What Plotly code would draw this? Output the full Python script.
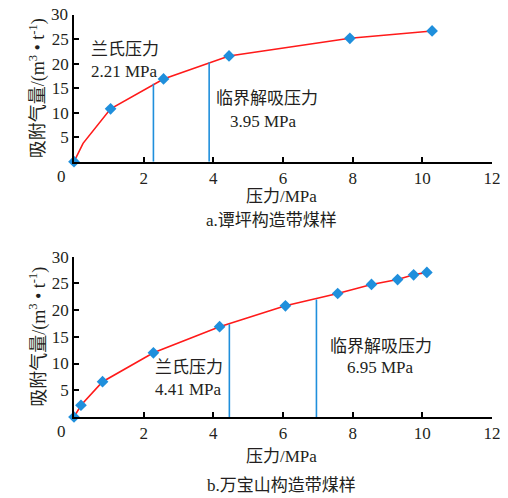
import plotly.graph_objects as go

# ---- data: a. 谭坪构造带煤样 ----
a_px = [0.0, 1.05, 2.57, 4.45, 7.92, 10.28]
a_py = [0.0, 10.8, 16.9, 21.6, 25.2, 26.7]
a_line_x = [0.0, 0.26, 1.05, 2.57, 4.45, 7.92, 10.28]
a_line_y = [0.0, 3.75, 10.8, 16.9, 21.6, 25.2, 26.7]
a_lang_x, a_lang_top = 2.28, 15.9
a_crit_x, a_crit_top = 3.88, 20.3

# ---- data: b. 万宝山构造带煤样 ----
b_px = [0.0, 0.2, 0.82, 2.28, 4.18, 6.07, 7.57, 8.54, 9.29, 9.75, 10.13]
b_py = [0.0, 2.2, 6.6, 12.0, 16.9, 20.8, 23.1, 24.8, 25.7, 26.6, 27.05]
b_lang_x, b_lang_top = 4.46, 17.35
b_crit_x, b_crit_top = 6.96, 22.0

x_ticks = [2, 4, 6, 8, 10, 12]
y_ticks = [5, 10, 15, 20, 25, 30]
y_ticktext = [str(v) for v in y_ticks]

RED = "#ff1a1a"
BLUE = "#1f8fdc"
TXT = "#231f20"
SERIF = "Liberation Serif, Times New Roman, Noto Sans CJK SC, serif"
CJK = "Liberation Serif, Noto Sans CJK SC, serif"

fig = go.Figure()

def add_panel(xa, ya, lx, ly, px, py, v1, v2):
    fig.add_trace(go.Scatter(x=lx, y=ly, mode="lines", line=dict(color=RED, width=1.6),
                             xaxis=xa, yaxis=ya, cliponaxis=False, showlegend=False))
    for vx, vt in (v1, v2):
        fig.add_trace(go.Scatter(x=[vx, vx], y=[0, vt], mode="lines",
                                 line=dict(color=BLUE, width=1.6),
                                 xaxis=xa, yaxis=ya, showlegend=False))
    fig.add_trace(go.Scatter(x=px, y=py, mode="markers",
                             marker=dict(symbol="diamond", size=9, color=BLUE),
                             xaxis=xa, yaxis=ya, cliponaxis=False, showlegend=False))

add_panel("x", "y", a_line_x, a_line_y, a_px, a_py,
          (a_lang_x, a_lang_top), (a_crit_x, a_crit_top))
add_panel("x2", "y2", b_px, b_py, b_px, b_py,
          (b_lang_x, b_lang_top), (b_crit_x, b_crit_top))

ax_common = dict(showline=True, linecolor="black", linewidth=1.5, ticks="inside",
                 ticklen=5, tickwidth=1.5, tickcolor="black", showgrid=False,
                 zeroline=False, automargin=False,
                 tickfont=dict(family=SERIF, size=17, color=TXT))

# page body has an 8px default margin, so the figure is offset by (8, 8)
fig.update_layout(
    width=500, height=490,
    margin=dict(l=66, r=16, t=6, b=81, autoexpand=False),
    paper_bgcolor="white", plot_bgcolor="white",
    xaxis=dict(domain=[0, 1], range=[0, 12], tickvals=x_ticks, anchor="y", **ax_common),
    # top label of the upper panel would poke above the page edge; drawn as annotation below
    yaxis=dict(domain=[0.6335, 0.998], range=[0, 30], tickvals=y_ticks,
               ticktext=y_ticktext[:-1] + [""], anchor="x", **ax_common),
    xaxis2=dict(domain=[0, 1], range=[0, 12], tickvals=x_ticks, anchor="y2", **ax_common),
    yaxis2=dict(domain=[0, 0.398], range=[0, 30], tickvals=y_ticks, anchor="x2", **ax_common),
)

def ann(text, x, y, xref, yref, size=17, **kw):
    fig.add_annotation(text=text, x=x, y=y, xref=xref, yref=yref, showarrow=False,
                       font=dict(family=CJK, size=size, color=TXT), **kw)

ytitle = "吸附气量/(m<sup>3</sup> • t<sup>-1</sup>)"
# top panel texts
ann(y_ticktext[-1], 0, y_ticks[-1], "paper", "y", xanchor="right", xshift=-4)
ann(ytitle, 0, 15, "paper", "y", size=18, textangle=-90, xshift=-50)
ann("0", 0, 0, "x", "y", xshift=-13, yshift=-15)
ann("压力/MPa", 5.96, 0, "x", "y", yshift=-35)
ann("a.谭坪构造带煤样", 5.68, 0, "x", "y", yshift=-59)
ann("兰氏压力", 0.43, 22.9, "x", "y", xanchor="left")
ann("2.21 MPa", 0.43, 18.4, "x", "y", xanchor="left")
ann("临界解吸压力", 5.53, 12.9, "x", "y")
ann("3.95 MPa", 5.43, 8.2, "x", "y")
# bottom panel texts
ann(ytitle, 0, 15, "paper", "y2", size=18, textangle=-90, xshift=-50)
ann("0", 0, 0, "x2", "y2", xshift=-13, yshift=-15)
ann("压力/MPa", 5.96, 0, "x2", "y2", yshift=-40)
ann("b.万宝山构造带煤样", 5.96, 0, "x2", "y2", yshift=-69)
ann("兰氏压力", 2.27, 9.3, "x2", "y2", xanchor="left")
ann("4.41 MPa", 2.27, 5.1, "x2", "y2", xanchor="left")
ann("临界解吸压力", 8.81, 13.1, "x2", "y2")
ann("6.95 MPa", 8.79, 9.2, "x2", "y2")

fig.write_html("out.html")
